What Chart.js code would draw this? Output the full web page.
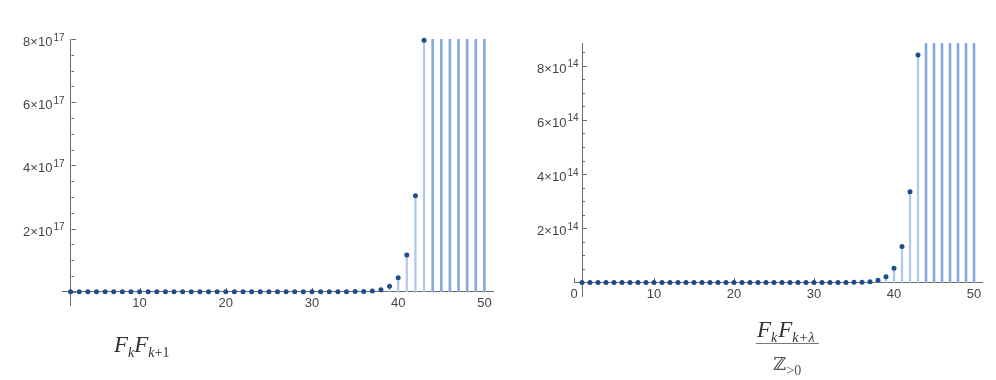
<!DOCTYPE html>
<html>
<head>
<meta charset="utf-8">
<title>Fibonacci products</title>
<script src="https://cdn.jsdelivr.net/npm/chart.js@4.4.1/dist/chart.umd.min.js"></script>
<style>
body{margin:0;background:#fff;width:996px;height:380px;overflow:hidden;position:relative;}
canvas{position:absolute;top:0;}
#leftChart{left:0;}
#rightChart{left:500px;}
.formula{position:absolute;font-family:"Liberation Serif","Times New Roman",serif;color:#333;white-space:nowrap;line-height:1;}
.formula i{font-style:italic;}
.formula .sub{font-size:14px;position:relative;top:5px;}
.formula .up{font-style:normal;}
#leftFormula{left:114px;top:333px;font-size:23px;}
#rightFormula{left:756px;top:318px;font-size:23px;text-align:center;}
#rightFormula .num{display:block;padding:0 3px 2px 1px;border-bottom:1.5px solid #777;}
#rightFormula .num .sub{letter-spacing:1px;}
#rightFormula .den{display:block;padding-top:7px;color:#555;}
#rightFormula .den .z{font-family:"DejaVu Serif",serif;font-size:18px;}
</style>
</head>
<body>

<canvas id="leftChart" width="500" height="380"></canvas>
<canvas id="rightChart" width="496" height="380"></canvas>

<div class="formula" id="leftFormula"><i>F</i><span class="sub"><i>k</i></span><i>F</i><span class="sub"><i>k</i><span class="up">+1</span></span></div>

<div class="formula" id="rightFormula">
<span class="num"><i>F</i><span class="sub"><i>k</i></span><i>F</i><span class="sub"><i>k</i><span class="up">+</span><i>λ</i></span></span>
<span class="den"><span class="z">ℤ</span><span class="sub">&gt;0</span></span>
</div>

<script>

// ==========================================================
// Data : left panel  (F_k F_k+1)
// ==========================================================

const leftK = [
    2,3,4,5,6,7,8,9,10,11,12,13,14,15,16,17,18,19,20,21,22,23,24,25,26,
    27,28,29,30,31,32,33,34,35,36,37,38,39,40,41,42,43,44,45,46,47,48,49,50
];

const leftValues = [
    0,0,0,0,0,0,0,0,0,0,0,0,0,0,0,0,0,0,0,0,0,0,0,0,0,
    0,0,0,0,0,0,
    6e13,1.5e14,4e14,1e15,2.5e15,6.5e15,1.7e16,4.4e16,1.16e17,3.04e17,7.96e17,
    2.1e18,5.5e18,1.4e19,3.7e19,9.8e19,2.6e20,6.7e20
];

const leftXTicks = [10,20,30,40,50];

const leftYTicks = [2e17,4e17,6e17,8e17];

const leftYMantissa = ["2×10","4×10","6×10","8×10"];

const leftYExponent = "17";

// ==========================================================
// Data : right panel  (F_k F_k+λ / Z>0)
// ==========================================================

const rightK = [
    1,2,3,4,5,6,7,8,9,10,11,12,13,14,15,16,17,18,19,20,21,22,23,24,25,
    26,27,28,29,30,31,32,33,34,35,36,37,38,39,40,41,42,43,44,45,46,47,48,49,50
];

const rightValues = [
    0,0,0,0,0,0,0,0,0,0,0,0,0,0,0,0,0,0,0,0,0,0,0,0,0,
    0,0,0,0,0,0,0,0,
    2e11,5e11,1.2e12,3e12,8e12,2.1e13,5.2e13,1.33e14,3.35e14,8.4e14,
    2.2e15,5.7e15,1.5e16,3.9e16,1e17,2.7e17,7e17
];

const rightXTicks = [0,10,20,30,40,50];

const rightYTicks = [2e14,4e14,6e14,8e14];

const rightYMantissa = ["2×10","4×10","6×10","8×10"];

const rightYExponent = "14";

// ==========================================================
// Styles
// ==========================================================

const AXIS_COLOR = "#6b6b6b";
const LABEL_COLOR = "#444";
const DOT_COLOR = "#1f4d8c";
const STEM_COLOR = "#b3c9eb";
const TALL_COLOR = "#86aadd";
const TICK_FONT = "'Liberation Sans', Arial, sans-serif";

// ==========================================================
// Inward tick marks + y labels with raised exponent
// ==========================================================

const mathAxes = {

    id:"mathAxes",

    beforeDatasetsDraw(chart, args, opts){

        const xs = chart.scales.x;
        const ys = chart.scales.y;
        const ctx = chart.ctx;

        const ax = Math.round(xs.getPixelForValue(opts.yAxisAt)) + 0.5;
        const ay = Math.round(ys.getPixelForValue(0)) + 0.5;

        ctx.save();
        ctx.strokeStyle = AXIS_COLOR;
        ctx.lineWidth = 1;
        ctx.beginPath();

        // y axis ticks, pointing right
        for(let i = 0; i * opts.yMinorStep <= ys.max; i++){
            const py = Math.round(ys.getPixelForValue(i * opts.yMinorStep)) + 0.5;
            const len = (i % 4 === 0) ? 4.5 : 2.5;
            ctx.moveTo(ax, py);
            ctx.lineTo(ax + len, py);
        }

        // x axis ticks, pointing up
        for(let v = opts.xStart; v <= xs.max; v += 2){
            const px = Math.round(xs.getPixelForValue(v)) + 0.5;
            const len = (v % 10 === 0) ? 4.5 : 2.5;
            ctx.moveTo(px, ay);
            ctx.lineTo(px, ay - len);
        }

        ctx.stroke();

        // y labels  "8×10" + raised exponent
        ctx.fillStyle = LABEL_COLOR;
        ctx.textBaseline = "alphabetic";
        ctx.textAlign = "left";

        ys.ticks.forEach((t, i) => {

            const py = ys.getPixelForTick(i);

            ctx.font = "10px " + TICK_FONT;
            const ew = ctx.measureText(opts.exponent).width;

            ctx.font = "13px " + TICK_FONT;
            const mw = ctx.measureText(opts.mantissa[i]).width;

            const right = ax - opts.labelGap;
            const left = right - ew - 1 - mw;

            ctx.fillText(opts.mantissa[i], left, py + 7);

            ctx.font = "10px " + TICK_FONT;
            ctx.fillText(opts.exponent, left + mw + 1, py + 1.5);

        });

        ctx.restore();

    }

};

// ==========================================================
// Build one panel
// ==========================================================

function createPanel(canvasId, ks, values, cfg){

    const canvas = document.getElementById(canvasId);

    if (!canvas) return;

    const points = ks.map((k, i) => ({x:k, y:values[i]}));

    const shortStems = points.filter(p => p.y <= cfg.yMax);

    const tallStems = points.filter(p => p.y > cfg.yMax);

    return new Chart(canvas.getContext("2d"),{

        type:"bar",

        data:{

            datasets:[

                {
                    type:"bar",
                    data:shortStems,
                    backgroundColor:STEM_COLOR,
                    barThickness:1.6,
                    grouped:false,
                    order:3
                },

                {
                    type:"bar",
                    data:tallStems,
                    backgroundColor:TALL_COLOR,
                    barThickness:2,
                    grouped:false,
                    order:2
                },

                {
                    type:"scatter",
                    data:points,
                    pointRadius:2.5,
                    pointBackgroundColor:DOT_COLOR,
                    pointBorderWidth:0,
                    showLine:false,
                    clip:6,
                    order:1
                }

            ]

        },

        options:{

            responsive:false,

            animation:false,

            layout:{ padding:cfg.padding },

            plugins:{

                legend:{ display:false },

                tooltip:{ enabled:false },

                mathAxes:{
                    yAxisAt:cfg.yAxisAt,
                    yMinorStep:cfg.yMinorStep,
                    xStart:cfg.xStart,
                    mantissa:cfg.yMantissa,
                    exponent:cfg.yExponent,
                    labelGap:cfg.yGap
                }

            },

            scales:{

                x:{
                    type:"linear",
                    position:{ y:0 },
                    min:cfg.xMin,
                    max:cfg.xMax,
                    offset:false,
                    grid:{ display:false, drawTicks:false },
                    border:{ color:AXIS_COLOR, width:1 },
                    afterBuildTicks:s => { s.ticks = cfg.xTicks.map(v => ({value:v})); },
                    ticks:{
                        padding:4,
                        color:LABEL_COLOR,
                        autoSkip:false,
                        maxRotation:0,
                        font:{ family:TICK_FONT, size:13 }
                    }
                },

                y:{
                    type:"linear",
                    position:{ x:cfg.yAxisAt },
                    min:cfg.yMin,
                    max:cfg.yMax,
                    grid:{ display:false, drawTicks:false },
                    border:{ color:AXIS_COLOR, width:1 },
                    afterBuildTicks:s => { s.ticks = cfg.yTicks.map(v => ({value:v})); },
                    ticks:{
                        display:false,
                        callback:(v, i) => cfg.yMantissa[i] + "^" + cfg.yExponent
                    }
                }

            }

        },

        plugins:[mathAxes]

    });

}

// ==========================================================
// Panels
// ==========================================================

createPanel("leftChart", leftK, leftValues, {
    xMin:1, xMax:51, xTicks:leftXTicks, xStart:2,
    yMin:-0.42e17, yMax:8e17, yTicks:leftYTicks,
    yMantissa:leftYMantissa, yExponent:leftYExponent,
    yAxisAt:2, yMinorStep:0.5e17, yGap:7,
    padding:{ left:62, right:7, top:39, bottom:75 }
});

createPanel("rightChart", rightK, rightValues, {
    xMin:0, xMax:51, xTicks:rightXTicks, xStart:0,
    yMin:-0.5e14, yMax:8.84e14, yTicks:rightYTicks,
    yMantissa:rightYMantissa, yExponent:rightYExponent,
    yAxisAt:1, yMinorStep:0.5e14, yGap:4,
    padding:{ left:74, right:14, top:43, bottom:84 }
});

</script>
</body>
</html>
